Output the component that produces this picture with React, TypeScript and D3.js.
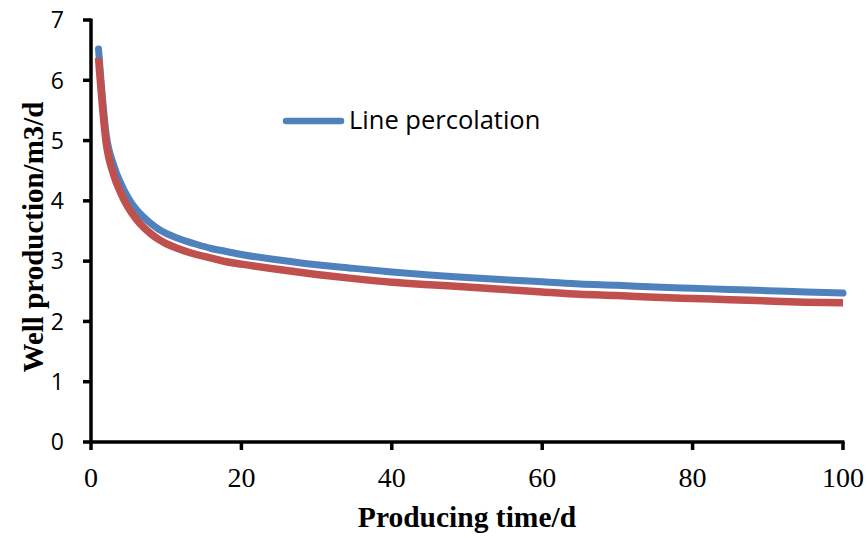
import * as d3 from "d3";
import React from "react";

// days
const days = [1, 2, 3, 4, 5, 6, 7, 8, 9, 10, 12, 14, 16, 18, 20, 25, 30, 35, 40, 45, 50, 55, 60, 65, 70, 75, 80, 85, 90, 95, 100];

const linePercolation = [6.52, 5.12, 4.6, 4.28, 4.04, 3.86, 3.73, 3.62, 3.53, 3.46, 3.36, 3.28, 3.21, 3.16, 3.11, 3.02, 2.94, 2.88, 2.82, 2.77, 2.73, 2.69, 2.66, 2.62, 2.6, 2.57, 2.55, 2.53, 2.51, 2.49, 2.47];
const otherSeries = [6.37, 4.98, 4.44, 4.12, 3.88, 3.7, 3.56, 3.45, 3.36, 3.29, 3.19, 3.11, 3.05, 2.99, 2.95, 2.86, 2.78, 2.71, 2.65, 2.61, 2.57, 2.53, 2.49, 2.45, 2.43, 2.4, 2.38, 2.36, 2.34, 2.32, 2.31];

const xTicks = [0, 20, 40, 60, 80, 100];
const yTicks = [0, 1, 2, 3, 4, 5, 6, 7];

const width = 867,
  height = 538;

export default function App() {
  const x = d3.scaleLinear().domain([0, 100]).range([91, 843]);
  const y = d3.scaleLinear().domain([0, 7]).range([442, 20]);

  const line = d3
    .line<number>()
    .x((d, i) => x(days[i]))
    .y((d) => y(d))
    .curve(d3.curveMonotoneX);

  const serif = "Liberation Serif, serif";
  const sans = "Open Sans, sans-serif";

  return (
    <svg
      width={width}
      height={height}
      style={{ position: "absolute", left: 0, top: 0, background: "white" }}
    >
      <path d={line(linePercolation) || ""} fill="none" stroke="#4F81BD" strokeWidth={7} strokeLinecap="round" strokeLinejoin="round" />
      <path d={line(otherSeries) || ""} fill="none" stroke="#C0504D" strokeWidth={7.5} strokeLinecap="butt" strokeLinejoin="round" />

      {/* axes */}
      <line x1={x(0)} x2={x(100) + 1.5} y1={y(0)} y2={y(0)} stroke="black" strokeWidth={3.5} />
      <line x1={x(0)} x2={x(0)} y1={y(0) + 1.5} y2={y(7) - 1.5} stroke="black" strokeWidth={3.5} />

      {yTicks.map((t) => (
        <g key={"y" + t}>
          <line x1={x(0) - 8} x2={x(0)} y1={y(t)} y2={y(t)} stroke="black" strokeWidth={3.5} />
          <text x={64} y={y(t)} dy="0.36em" textAnchor="end" fontFamily={sans} fontSize={23}>
            {t}
          </text>
        </g>
      ))}

      {xTicks.map((t) => (
        <g key={"x" + t}>
          <line x1={x(t)} x2={x(t)} y1={y(0)} y2={y(0) + 8} stroke="black" strokeWidth={3.5} />
          <text x={x(t)} y={487} textAnchor="middle" fontFamily={serif} fontSize={28}>
            {t}
          </text>
        </g>
      ))}

      <text x={(x(0) + x(100)) / 2} y={527} textAnchor="middle" fontFamily={serif} fontSize={29.5} fontWeight="bold">
        Producing time/d
      </text>
      <text
        transform={`translate(43, ${(y(0) + y(7)) / 2 + 6}) rotate(-90)`}
        textAnchor="middle"
        fontFamily={serif}
        fontSize={29}
        fontWeight="bold"
      >
        Well production/m3/d
      </text>

      {/* legend */}
      <line x1={286} x2={341} y1={121} y2={121} stroke="#4F81BD" strokeWidth={6.5} strokeLinecap="round" />
      <text x={349} y={129} fontFamily={sans} fontSize={25.5}>
        Line percolation
      </text>
    </svg>
  );
}
